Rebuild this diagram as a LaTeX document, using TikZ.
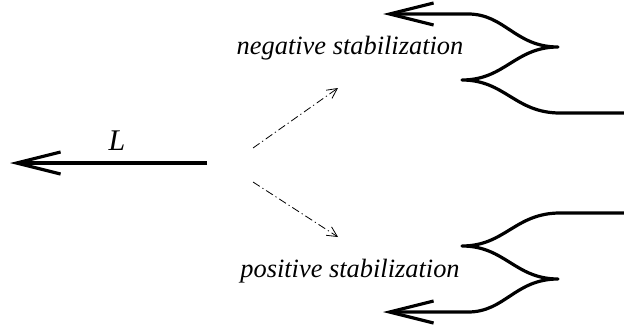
\documentclass[tikz,border=0pt]{standalone}
\usepackage{fontspec}
\setmainfont{Liberation Serif}
\usetikzlibrary{arrows.meta,positioning}
\tikzset{
  strand/.style={line width=1.6pt,line join=round},
  knotarr/.style={strand,-{Straight Barb[length=22pt,width=11pt,line width=1.6pt]}},
  movearr/.style={line width=0.4pt,dash pattern=on 4pt off 1.6pt on 0.6pt off 1.6pt,
                  -{Straight Barb[length=5pt,width=5pt,line width=0.4pt]}},
  caption/.style={font=\fontsize{13.2}{15}\selectfont\itshape,inner sep=0pt}
}

\begin{document}
\begin{tikzpicture}[x=0.5pt,y=-0.5pt]
  \useasboundingbox (0,0) rectangle (624,326);

  % the knot L
  \coordinate (Lstart) at (207,163);
  \coordinate (Lend) at (10,163);
  \draw[knotarr] (Lstart) -- (Lend);
  \node[caption,font=\fontsize{15}{17}\selectfont\itshape] (Llab) at (117,141) {L};

  % the two moves
  \coordinate (mvfrom1) at (253,148);
  \coordinate (mvto1) at (338,88);
  \coordinate (mvfrom2) at (253,182);
  \coordinate (mvto2) at (338,237);
  \draw[movearr] (mvfrom1) -- (mvto1);
  \draw[movearr] (mvfrom2) -- (mvto2);

  % negative stabilization
  \node[caption] (neglab) at (350,48) {negative stabilization};
  \draw[knotarr] (624,113) -- (560,113)
    .. controls (515,113) and (505,80) .. (462,80)
    .. controls (505,80) and (515,47) .. (558,47)
    .. controls (515,47) and (505,14) .. (468,14) -- (383,14);

  % positive stabilization
  \node[caption] (poslab) at (350,271) {positive stabilization};
  \draw[knotarr] (624,213) -- (560,213)
    .. controls (515,213) and (505,246) .. (462,246)
    .. controls (505,246) and (515,279) .. (558,279)
    .. controls (515,279) and (505,312) .. (468,312) -- (383,312);
\end{tikzpicture}
\end{document}
